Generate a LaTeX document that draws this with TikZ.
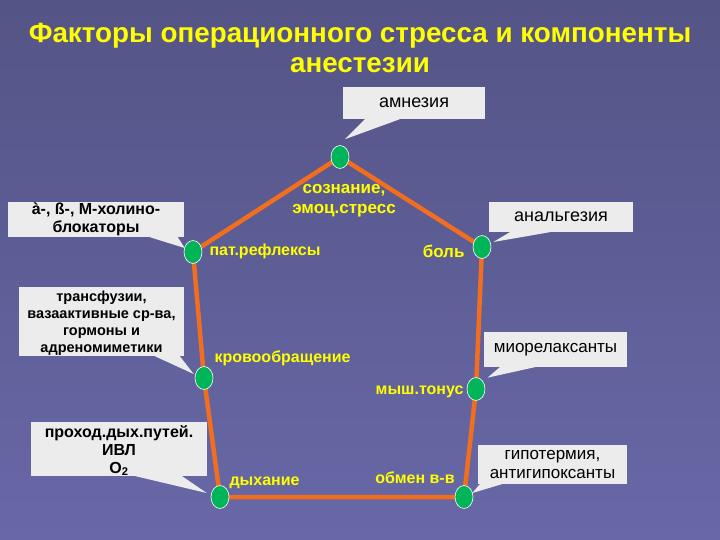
\documentclass[tikz,border=0pt]{standalone}
\usepackage{fontspec}
\setmainfont{Liberation Sans}
\usepackage{tikz}
\usetikzlibrary{shapes.geometric,backgrounds,calc}
\definecolor{bgtop}{RGB}{84,84,134}
\definecolor{bgbot}{RGB}{104,104,168}
\definecolor{orng}{RGB}{240,110,30}
\definecolor{grn}{RGB}{0,180,90}
\definecolor{boxgray}{RGB}{236,236,236}
\definecolor{ylw}{RGB}{255,255,0}
\tikzstyle{every ellipse node}=[draw=white,fill=grn,line width=0.6pt,minimum width=18pt,minimum height=23pt,inner sep=0pt]
\tikzstyle{callout}=[fill=boxgray,inner sep=0pt,align=center,text=black]
\tikzstyle{lbl}=[text=ylw,align=center,font=\bfseries\fontsize{16}{18}\selectfont]
\tikzstyle{edge}=[orng,line width=4.5pt,line join=round]
\begin{document}
\begin{tikzpicture}[x=1pt,y=-1pt]
\useasboundingbox (0,0) rectangle (720,540);

\node[lbl,font=\bfseries\fontsize{27.8}{30}\selectfont] (title) at (360,48) {Факторы операционного стресса и компоненты\\анестезии};

\node[ellipse] (soz) at (340,157) {};
\node[ellipse] (pat) at (193,252) {};
\node[ellipse] (bol) at (482,247) {};
\node[ellipse] (krov) at (204,378) {};
\node[ellipse] (mysh) at (476,389) {};
\node[ellipse] (dyh) at (220,497) {};
\node[ellipse] (obm) at (464,497) {};

\node[lbl,font=\bfseries\fontsize{17}{20}\selectfont] (sozl) at (344,201) {сознание,\\эмоц.стресс};
\node[lbl,anchor=west] (patl) at (206,251) {пат.рефлексы};
\node[lbl,anchor=east,font=\bfseries\fontsize{17}{20}\selectfont] (boll) at (468,251) {боль};
\node[lbl,anchor=west] (krovl) at (211,358) {кровообращение};
\node[lbl,anchor=east] (myshl) at (467,392) {мыш.тонус};
\node[lbl,anchor=west] (dyhl) at (226,483) {дыхание};
\node[lbl] (obml) at (415,478) {обмен в-в};

\node[callout,minimum width=142pt,minimum height=32pt,font=\fontsize{18}{20}\selectfont] (amn) at (414,103) {амнезия};
\node[callout,minimum width=176pt,minimum height=35pt,font=\bfseries\fontsize{16}{18}\selectfont] (blok) at (96,219.5) {à-, ß-, М-холино-\\блокаторы};
\node[callout,minimum width=165pt,minimum height=69pt,font=\bfseries\fontsize{14.5}{17}\selectfont] (trans) at (101.5,321.5) {\rule{0pt}{14pt}трансфузии,\\вазаактивные ср-ва,\\гормоны и\\адреномиметики};
\node[callout,minimum width=176pt,minimum height=52pt,font=\bfseries\fontsize{16}{18}\selectfont] (prohod) at (119,449) {\rule{0pt}{15pt}проход.дых.путей.\\ИВЛ\\O\textsubscript{2}};
\node[callout,minimum width=144pt,minimum height=30pt,font=\fontsize{18}{20}\selectfont] (anal) at (561,217) {анальгезия};
\node[callout,minimum width=143pt,minimum height=35pt,font=\fontsize{17}{20}\selectfont] (mio) at (555.5,349.5) {миорелаксанты};
\node[callout,minimum width=149pt,minimum height=39pt,font=\fontsize{17}{19}\selectfont] (gipo) at (552.5,464.5) {гипотермия,\\антигипоксанты};

\fill[boxgray] ($(amn.south west)+(22,0)$) -- ($(amn.south west)+(57,0)$) -- ($(soz.north)+(5,-6)$) -- cycle;
\fill[boxgray] ($(blok.south west)+(142,0)$) -- ($(blok.south west)+(170,0)$) -- ($(pat.west)+(1,-4)$) -- cycle;
\fill[boxgray] ($(trans.south west)+(136,0)$) -- ($(trans.south west)+(161,0)$) -- ($(krov.west)+(-1,-4)$) -- cycle;
\fill[boxgray] ($(prohod.south west)+(104,0)$) -- ($(prohod.south west)+(151,0)$) -- ($(dyh.west)+(-4,-4)$) -- cycle;
\fill[boxgray] ($(anal.south west)+(21,0)$) -- ($(anal.south west)+(61,0)$) -- ($(bol.east)+(2,-5)$) -- cycle;
\fill[boxgray] ($(mio.south west)+(16,0)$) -- ($(mio.south west)+(51,0)$) -- ($(mysh.north east)+(5,-3)$) -- cycle;
\fill[boxgray] ($(gipo.south west)+(2,0)$) -- ($(gipo.south west)+(24,0)$) -- ($(obm.east)+(-1,-4)$) -- cycle;

\begin{scope}[on background layer]
\shade[top color=bgtop,bottom color=bgbot] (0,0) rectangle (720,540);
\draw[edge] (soz.center) -- (pat.center) -- (krov.center) -- (dyh.center) -- (obm.center) -- (mysh.center) -- (bol.center) -- cycle;
\end{scope}
\end{tikzpicture}
\end{document}
